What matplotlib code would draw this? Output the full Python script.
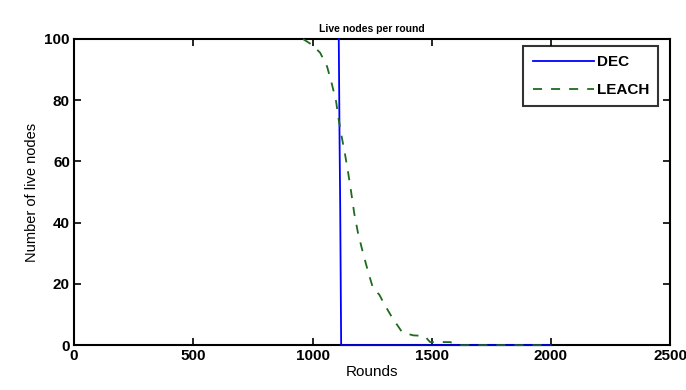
import matplotlib
matplotlib.use("Agg")
import matplotlib.pyplot as plt

dec_x = [1110, 1113, 1116, 1120, 2000]
dec_y = [100, 70, 45, 0, 0]

leach_x = [960, 980, 1000, 1032, 1061, 1082, 1099, 1108, 1120, 1137, 1150, 1160, 1175,
           1191, 1212, 1233, 1254, 1280, 1300, 1334, 1376, 1422, 1470, 1493, 1577, 1610, 2000]
leach_y = [100, 99, 98, 95.5, 91, 85, 79.5, 74.5, 69, 62, 56, 51, 43,
           36.5, 30, 24, 18.5, 16.5, 13.5, 9, 4.2, 3.2, 3, 1, 1, 0, 0]

xticks = [0, 500, 1000, 1500, 2000, 2500]
yticks = [0, 20, 40, 60, 80, 100]

plt.rcParams['font.family'] = ['Liberation Sans', 'DejaVu Sans']

fig = plt.figure(figsize=(6.86, 3.9), dpi=100)
ax = fig.add_axes([0.108, 0.115, 0.869, 0.785])

ax.plot(dec_x, dec_y, color='#0000ff', lw=1.3, label='DEC', clip_on=False, zorder=3)
ax.plot(leach_x, leach_y, color='#1e6b1e', lw=1.3, ls=(0, (5, 5)), label='LEACH',
        clip_on=False, zorder=4)

ax.set_xlim(0, 2500)
ax.set_ylim(0, 100)
ax.set_xticks(xticks)
ax.set_yticks(yticks)
ax.tick_params(direction='in', top=True, right=True, length=5, width=1.2,
               labelsize=11, pad=3)
for lab in ax.get_xticklabels() + ax.get_yticklabels():
    lab.set_fontweight('bold')
for s in ax.spines.values():
    s.set_linewidth(1.5)
    s.set_zorder(2)

ax.set_title('Live nodes per round', fontsize=7.5, fontweight='bold', pad=5)
ax.set_xlabel('Rounds', fontsize=11, labelpad=1)
ax.set_ylabel('Number of live nodes', fontsize=10.5, labelpad=4)

leg = ax.legend(loc='upper right', bbox_to_anchor=(0.980, 0.977), fontsize=11,
                frameon=True, fancybox=False, edgecolor='black',
                handlelength=4.0, handletextpad=0.2, borderaxespad=0.0,
                labelspacing=0.9, borderpad=0.6)
leg.get_frame().set_linewidth(1.5)
leg.set_zorder(5)
for t in leg.get_texts():
    t.set_fontweight('bold')

fig.savefig('out.png', dpi=100)
